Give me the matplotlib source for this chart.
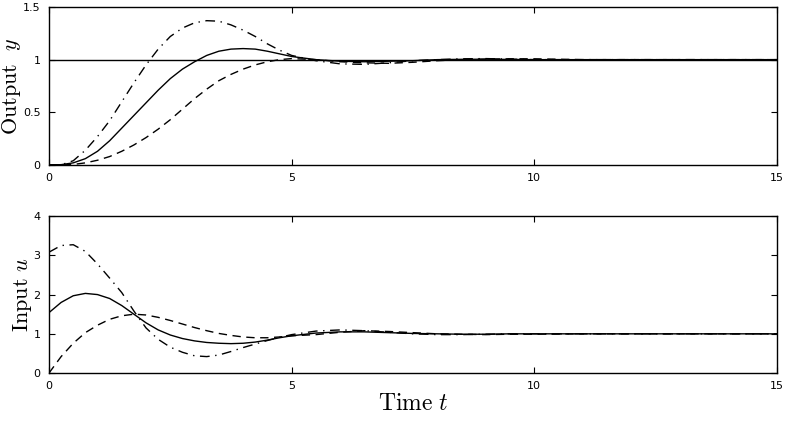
import numpy as np
import matplotlib.pyplot as plt

plt.rcParams['mathtext.fontset'] = 'cm'

# time samples
t = [0, 0.25, 0.5, 0.75, 1.0, 1.25, 1.5, 1.75, 2.0, 2.25, 2.5, 2.75, 3.0, 3.25,
     3.5, 3.75, 4.0, 4.25, 4.5, 4.75, 5.0,
     5.5, 6.0, 6.5, 7.0, 7.5, 8.0, 8.5, 9.0, 9.5, 10.0,
     11.0, 12.0, 13.0, 14.0, 15.0]

# output y
y_solid = [0, 0.003, 0.02, 0.06, 0.13, 0.23, 0.35, 0.47, 0.59, 0.71, 0.82, 0.91, 0.98, 1.04,
           1.08, 1.10, 1.105, 1.10, 1.08, 1.055, 1.03,
           1.0, 0.985, 0.98, 0.985, 0.99, 1.0, 1.003, 1.004, 1.002, 1.0,
           1.0, 1.0, 1.0, 1.0, 1.0]
y_dashdot = [0, 0.002, 0.04, 0.14, 0.27, 0.42, 0.60, 0.78, 0.95, 1.10, 1.22, 1.30, 1.35, 1.37,
             1.365, 1.33, 1.28, 1.22, 1.15, 1.09, 1.04,
             0.99, 0.96, 0.955, 0.97, 0.99, 1.0, 1.008, 1.01, 1.005, 1.0,
             1.0, 1.0, 1.0, 1.0, 1.0]
y_dashed = [0, 0.0, 0.005, 0.02, 0.045, 0.08, 0.13, 0.19, 0.26, 0.34, 0.43, 0.53, 0.63, 0.72,
            0.80, 0.86, 0.91, 0.95, 0.98, 1.0, 1.01,
            1.0, 0.98, 0.97, 0.965, 0.975, 0.99, 1.0, 1.005, 1.008, 1.008,
            1.0, 1.0, 1.0, 1.0, 1.0]

# input u
u_solid = [1.54, 1.80, 1.97, 2.03, 2.0, 1.90, 1.72, 1.50, 1.28, 1.10, 0.97, 0.88, 0.82, 0.78,
           0.76, 0.75, 0.76, 0.79, 0.84, 0.90, 0.95,
           1.02, 1.05, 1.05, 1.03, 1.01, 1.0, 0.99, 0.99, 1.0, 1.0,
           1.0, 1.0, 1.0, 1.0, 1.0]
u_dashdot = [3.08, 3.25, 3.27, 3.10, 2.78, 2.42, 2.05, 1.58, 1.15, 0.86, 0.66, 0.53, 0.44, 0.42,
             0.46, 0.55, 0.65, 0.74, 0.83, 0.91, 0.98,
             1.07, 1.10, 1.08, 1.04, 1.0, 0.98, 0.98, 0.99, 1.0, 1.0,
             1.0, 1.0, 1.0, 1.0, 1.0]
u_dashed = [0.0, 0.42, 0.76, 1.03, 1.22, 1.37, 1.46, 1.50, 1.48, 1.42, 1.34, 1.25, 1.16, 1.08,
            1.01, 0.96, 0.92, 0.90, 0.90, 0.92, 0.95,
            0.98, 1.04, 1.08, 1.06, 1.03, 1.0, 0.99, 0.98, 0.99, 0.99,
            1.0, 1.0, 1.0, 1.0, 1.0]

xticks = [0, 5, 10, 15]


def style(ax):
    ax.set_xlim(0, 15)
    ax.set_xticks(xticks)
    ax.tick_params(direction='in', top=True, right=True, labelsize=8, length=4, pad=6)
    for s in ax.spines.values():
        s.set_linewidth(1.0)


fig = plt.figure(figsize=(7.9, 4.23), dpi=100)
ax1 = fig.add_axes([0.062, 0.61, 0.9215, 0.3735])
ax2 = fig.add_axes([0.062, 0.118, 0.9215, 0.3712])

ax1.axhline(1, color='k', lw=1.0)
ax1.plot(t, y_solid, color='k', lw=1.0, ls='-')
ax1.plot(t, y_dashed, color='k', lw=1.0, ls=(0, (6, 4)))
ax1.plot(t, y_dashdot, color='k', lw=1.0, ls=(0, (7, 4, 1, 4)))
style(ax1)
ax1.set_ylim(0, 1.5)
ax1.set_yticks([0, 0.5, 1, 1.5])
ax1.set_yticklabels(['0', '0.5', '1', '1.5'])
ax1.set_ylabel(r'$\mathrm{Output}\ \ y$', fontsize=16, labelpad=0)

ax2.plot(t, u_solid, color='k', lw=1.0, ls='-')
ax2.plot(t, u_dashed, color='k', lw=1.0, ls=(0, (6, 4)))
ax2.plot(t, u_dashdot, color='k', lw=1.0, ls=(0, (7, 4, 1, 4)))
style(ax2)
ax2.set_ylim(0, 4)
ax2.set_yticks([0, 1, 2, 3, 4])
ax2.set_ylabel(r'$\mathrm{Input}\ u$', fontsize=16, labelpad=0)
ax2.set_xlabel(r'$\mathrm{Time}\ t$', fontsize=17, labelpad=0)

fig.savefig('out.png', dpi=100)
